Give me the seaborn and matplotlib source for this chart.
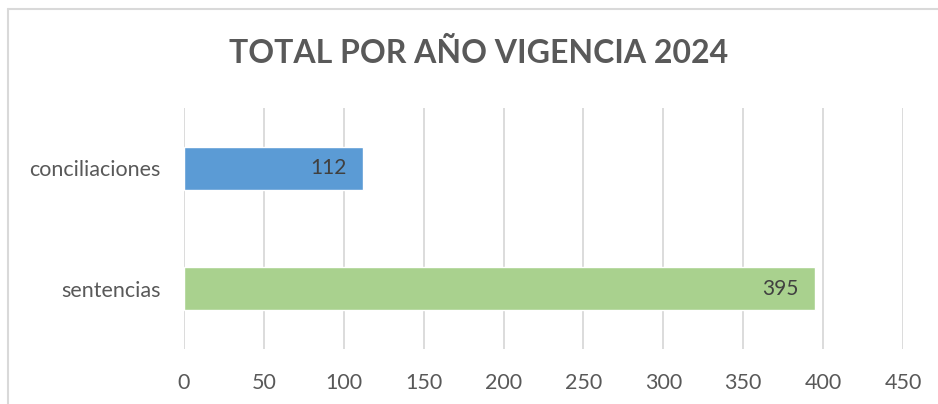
import matplotlib
matplotlib.use("Agg")
import matplotlib.pyplot as plt
import seaborn as sns
import pandas as pd

# data
categorias = ["conciliaciones", "sentencias"]
totales = [112, 395]
colores = ["#5B9BD5", "#A9D18E"]
ticks_x = [0, 50, 100, 150, 200, 250, 300, 350, 400, 450]

df = pd.DataFrame({"tipo": categorias, "total": totales})

sns.set_theme(style="white")
plt.rcParams["font.family"] = ["Lato", "DejaVu Sans"]

fig = plt.figure(figsize=(9.38, 4.04), dpi=100)
ax = fig.add_axes([184 / 938, 1 - 349 / 404, 719 / 938, 241 / 404])

sns.barplot(data=df, y="tipo", x="total", hue="tipo", palette=colores,
            orient="h", width=0.355, legend=False, ax=ax, saturation=1)

ax.set_xlim(0, 450)
ax.set_ylim(1.5, -0.5)
ax.set_xticks(ticks_x)
ax.grid(axis="x", color="#D9D9D9", linewidth=1.3)
ax.set_axisbelow(True)
for s in ax.spines.values():
    s.set_visible(False)
ax.set_xlabel("")
ax.set_ylabel("")
ax.tick_params(axis="both", length=0, labelsize=15.5, labelcolor="#595959")
ax.tick_params(axis="x", pad=17)
ax.tick_params(axis="y", pad=17)

for i, v in enumerate(totales):
    ax.annotate(str(v), xy=(v, i), xytext=(-12, 0), textcoords="offset points",
                ha="right", va="center", fontsize=15, color="#404040")

fig.text(479 / 938, 1 - 53 / 404, "TOTAL POR AÑO VIGENCIA 2024", ha="center",
         va="center", fontsize=23, fontweight="bold", color="#595959")

# chart frame (partly cut off in the original)
fig.add_artist(plt.Line2D([8 / 938, 1], [1 - 9 / 404] * 2, color="#D9D9D9",
                          linewidth=1.5, transform=fig.transFigure))
fig.add_artist(plt.Line2D([8 / 938] * 2, [0, 1 - 9 / 404], color="#D9D9D9",
                          linewidth=1.5, transform=fig.transFigure))

fig.savefig("out.png", dpi=100)
